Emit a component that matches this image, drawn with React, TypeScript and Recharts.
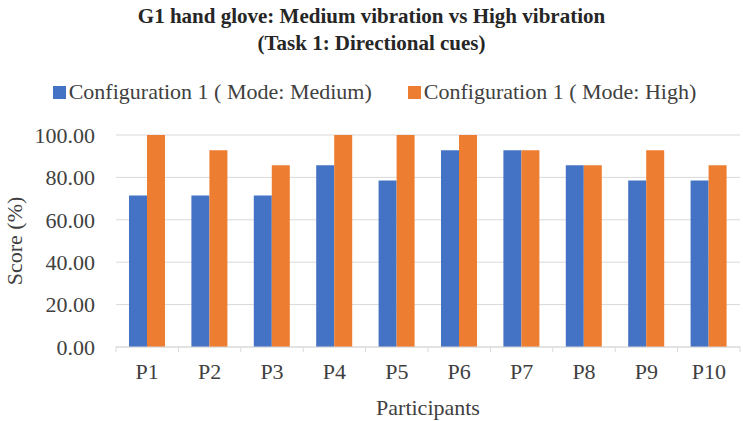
import { BarChart, Bar, XAxis, YAxis, CartesianGrid, Legend } from 'recharts';

const participants = ['P1', 'P2', 'P3', 'P4', 'P5', 'P6', 'P7', 'P8', 'P9', 'P10'];
const mediumScores = [71.43, 71.43, 71.43, 85.71, 78.57, 92.86, 92.86, 85.71, 78.57, 78.57];
const highScores = [100, 92.86, 85.71, 100, 100, 100, 92.86, 85.71, 92.86, 85.71];
const yTicks = [0, 20, 40, 60, 80, 100];
const seriesKeys = ['medium', 'high'];

const data = participants.map((p, i) => ({
  name: p,
  medium: mediumScores[i],
  high: highScores[i],
}));

const FONT = '"Liberation Serif", "Times New Roman", serif';
const TEXT = '#404040';
const GRID = '#d9d9d9';
const TICK_SIZE = 5;
const TICK_MARGIN = 11;

// legend drawn by hand so the order and spacing match the original
const renderLegend = (props: any) => {
  const items = [...(props.payload || [])].sort(
    (a: any, b: any) => seriesKeys.indexOf(a.dataKey) - seriesKeys.indexOf(b.dataKey)
  );
  return (
    <div style={{ display: 'flex', justifyContent: 'center', height: 26, alignItems: 'center', paddingLeft: 6 }}>
      {items.map((it: any, i: number) => (
        <div key={it.value} style={{ display: 'flex', alignItems: 'center', marginLeft: i ? 36 : 0 }}>
          <span style={{ width: 13, height: 13, background: it.color, display: 'inline-block', marginRight: 3 }} />
          <span style={{ fontFamily: FONT, fontSize: 22, color: TEXT, lineHeight: '26px' }}>{it.value}</span>
        </div>
      ))}
    </div>
  );
};

// Excel style: tick marks sit between categories, labels in the middle
const CategoryTick = (props: any) => {
  const { x, y, payload, index, width, visibleTicksCount } = props;
  const band = width / visibleTicksCount;
  const axisY = y - TICK_SIZE - TICK_MARGIN;
  const last = index === visibleTicksCount - 1;
  return (
    <g>
      <line x1={x - band / 2} x2={x - band / 2} y1={axisY} y2={axisY + TICK_SIZE} stroke={GRID} />
      {last && <line x1={x + band / 2} x2={x + band / 2} y1={axisY} y2={axisY + TICK_SIZE} stroke={GRID} />}
      <text x={x} y={y} dy="0.71em" textAnchor="middle" fill={TEXT} fontSize={22} fontFamily={FONT}>
        {payload.value}
      </text>
    </g>
  );
};

export default function App() {
  return (
    <div style={{ position: 'absolute', left: 0, top: 0, width: 743, height: 421, background: '#fff', fontFamily: FONT }}>
      <div style={{ position: 'absolute', top: 3, left: 0, width: 743, textAlign: 'center', fontWeight: 'bold', fontSize: 21, lineHeight: '27px', color: '#262626' }}>
        G1 hand glove: Medium vibration vs High vibration
        <br />
        (Task 1: Directional cues)
      </div>
      <BarChart
        width={743}
        height={421}
        data={data}
        margin={{ top: 109, right: 3, left: 8, bottom: 5 }}
        barCategoryGap={13}
        barGap={0}
      >
        <Legend
          verticalAlign="top"
          align="center"
          content={renderLegend}
          wrapperStyle={{ top: 79, left: 0, width: 743 }}
        />
        <CartesianGrid vertical={false} stroke={GRID} />
        <XAxis
          dataKey="name"
          height={69}
          tick={<CategoryTick />}
          tickLine={false}
          tickSize={TICK_SIZE}
          axisLine={{ stroke: GRID }}
          interval={0}
          tickMargin={TICK_MARGIN}
          label={{ value: 'Participants', position: 'insideBottom', offset: 1.5, fill: TEXT, fontSize: 22, fontFamily: FONT }}
        />
        <YAxis
          domain={[0, 100]}
          ticks={yTicks}
          width={108}
          tick={{ fill: TEXT, fontSize: 22, fontFamily: FONT }}
          tickFormatter={(v: number) => v.toFixed(2)}
          tickLine={false}
          tickMargin={15}
          axisLine={false}
          label={{ value: 'Score (%)', angle: -90, position: 'insideLeft', offset: 6, style: { textAnchor: 'middle' }, fill: TEXT, fontSize: 22, fontFamily: FONT }}
        />
        <Bar dataKey="medium" name="Configuration 1 ( Mode: Medium)" fill="#4472c4" isAnimationActive={false} />
        <Bar dataKey="high" name="Configuration 1 ( Mode: High)" fill="#ed7d31" isAnimationActive={false} />
      </BarChart>
    </div>
  );
}
